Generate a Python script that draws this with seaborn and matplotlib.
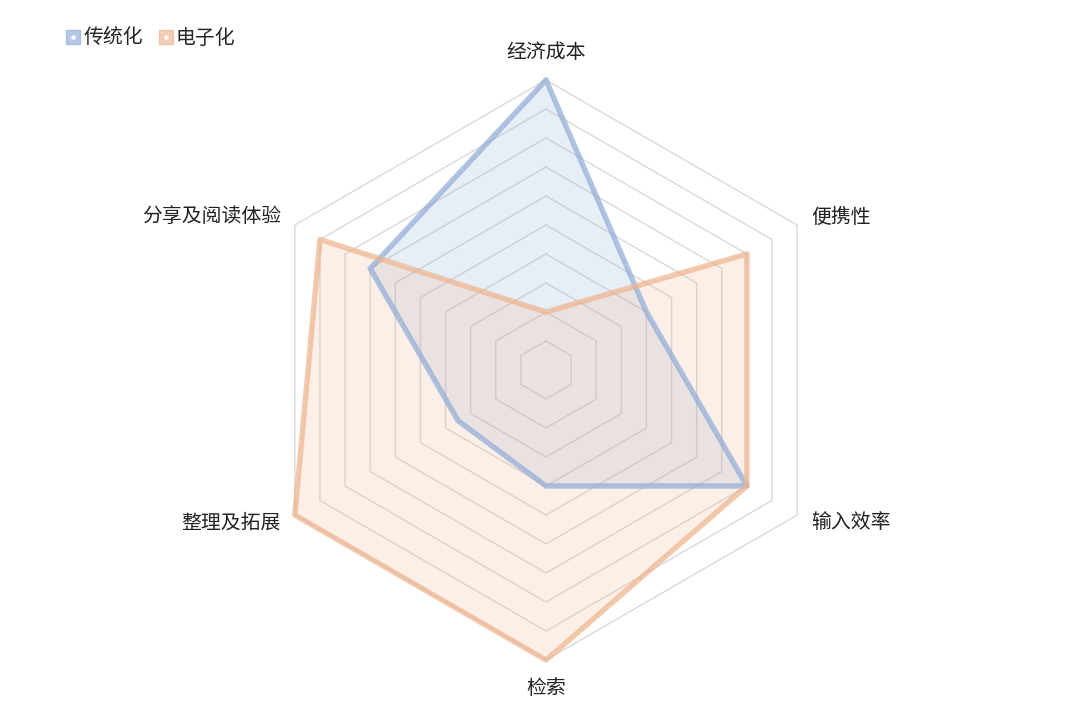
import numpy as np
import pandas as pd
import seaborn as sns
import matplotlib
matplotlib.use("Agg")
import matplotlib.pyplot as plt
from matplotlib.lines import Line2D
from matplotlib.legend_handler import HandlerTuple

sns.set_theme(style="white")
plt.rcParams['font.family'] = ['Noto Sans CJK SC', 'DejaVu Sans']

# ---- data ----
categories = ["经济成本", "便携性", "输入效率", "检索", "整理及拓展", "分享及阅读体验"]
series_names = ["传统化", "电子化"]
traditional = [10, 4, 8, 4, 3.5, 7]
electronic = [2, 8, 8, 10, 10, 9]
max_value = 10
ring_levels = list(range(1, 11))

colors = {"传统化": "#8fabd6", "电子化": "#eeb38c"}

n = len(categories)
angles = np.arange(n) * 2 * np.pi / n  # clockwise from top


def to_xy(values):
    v = np.asarray(values, dtype=float)
    x = v * np.sin(angles)
    y = v * np.cos(angles)
    return np.append(x, x[0]), np.append(y, y[0])


fig = plt.figure(figsize=(10.8, 7.25), dpi=100)
ax = fig.add_axes([0, 0, 1, 1])
px = 29.0  # pixels per unit
ax.set_xlim(-546 / px, (1080 - 546) / px)
ax.set_ylim(-(725 - 370) / px, 370 / px)
ax.axis("off")

# hexagonal grid rings
for lv in ring_levels:
    gx, gy = to_xy([lv] * n)
    ax.plot(gx, gy, color="#d9d9d9", lw=1.0, zorder=1)

df = pd.DataFrame({"category": categories, "传统化": traditional, "电子化": electronic})

for name in series_names:
    xs, ys = to_xy(df[name])
    c = colors[name]
    ax.fill(xs, ys, color=c, alpha=0.2, lw=0, zorder=2)
    sns.lineplot(x=xs, y=ys, sort=False, ax=ax, color=c, alpha=0.7, lw=3.9,
                 solid_joinstyle="round", zorder=3, estimator=None)

# axis labels
for cat, a in zip(categories, angles):
    sx, sy = np.sin(a), np.cos(a)
    if abs(sx) < 1e-6:
        r = max_value + 28 / px
        ha = "center"
    else:
        r = max_value + 16 / px
        ha = "left" if sx > 0 else "right"
    ax.text(r * sx, r * sy, cat, ha=ha, va="center", fontsize=14.3,
            color="#222222", zorder=4)

# legend
handles = []
for name in series_names:
    sq = Line2D([], [], marker="s", markersize=9.5, color=colors[name], alpha=0.65, lw=0)
    dot = Line2D([], [], marker="o", markersize=2.2, color="white", lw=0)
    handles.append((sq, dot))
leg = fig.legend(handles, series_names, loc="upper left", bbox_to_anchor=(0.044, 0.986),
                 frameon=False, fontsize=14.3, handlelength=0.8, handletextpad=0.1,
                 columnspacing=0.75, ncol=2,
                 handler_map={tuple: HandlerTuple(ndivide=1, pad=0)})

fig.savefig("out.png", dpi=100)
